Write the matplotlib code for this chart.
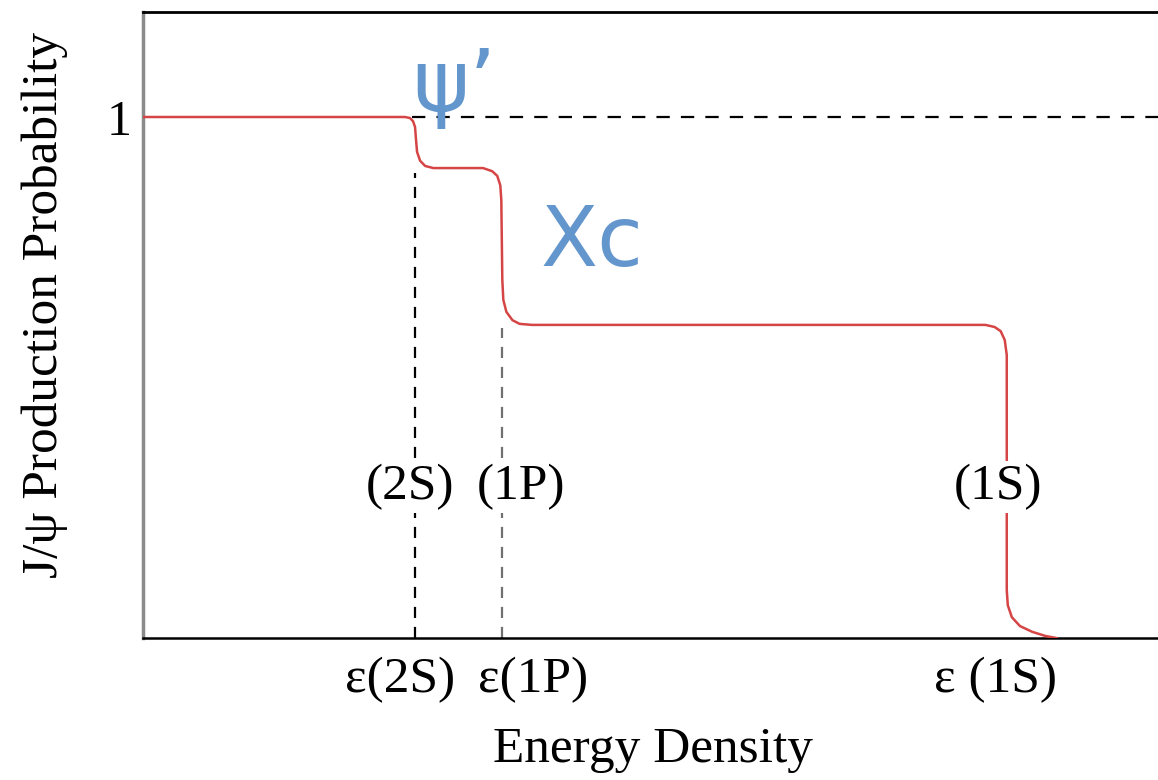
import numpy as np
import matplotlib.pyplot as plt

# curve (x: energy density, arbitrary units; y: probability)
curve_x = [0.00, 2.58, 2.63, 2.66, 2.68, 2.69, 2.70, 2.73, 2.78, 2.86, 3.35, 3.44,
           3.49, 3.52, 3.53, 3.54, 3.55, 3.58, 3.64, 3.71, 3.83, 8.30, 8.39, 8.45,
           8.49, 8.51, 8.51, 8.52, 8.56, 8.64, 8.76, 8.89, 9.00]
curve_y = [1.000, 1.000, 0.998, 0.992, 0.981, 0.956, 0.933, 0.916, 0.906, 0.902, 0.902, 0.896,
           0.887, 0.869, 0.841, 0.687, 0.649, 0.626, 0.610, 0.603, 0.601, 0.601, 0.597, 0.589,
           0.572, 0.543, 0.092, 0.063, 0.040, 0.023, 0.012, 0.004, 0.000]

# dissociation thresholds
eps_names = ['(2S)', '(1P)', '(1S)']
eps_x = [2.68, 3.54, 8.51]
eps_top = [0.893, 0.595, None]
eps_colors = ['black', '#707070', None]
tick_labels = ['ε(2S)', 'ε(1P)', 'ε (1S)']
tick_label_x = [2.53, 3.84, 8.40]
state_label_x = [2.63, 3.72, 8.42]

serif = ['Liberation Serif', 'DejaVu Serif']
blue = '#6396cc'
fs = 37

fig = plt.figure(figsize=(11.58, 7.8), dpi=100)
ax = fig.add_axes([0.1235, 0.182, 0.8765, 0.8026])

ax.plot(curve_x, curve_y, color='#d64545', lw=1.8, zorder=3)

# horizontal dashed line at 1
ax.plot([2.65, 10.0], [1.0, 1.0], color='black', lw=1.6, dashes=(6, 5), zorder=2)

for xv, top, c in zip(eps_x, eps_top, eps_colors):
    if top is not None:
        ax.plot([xv, xv], [0, top], color=c, lw=1.6, dashes=(5, 4), zorder=2)

for name, xv in zip(eps_names, state_label_x):
    ax.text(xv, 0.29, name, ha='center', va='center', fontsize=fs, family=serif,
            zorder=5, bbox=dict(facecolor='white', edgecolor='none', pad=2))

for lab, xv in zip(tick_labels, tick_label_x):
    ax.text(xv, -0.081, lab, ha='center', va='center', fontsize=fs, family=serif,
            clip_on=False)

ax.text(3.07, 1.056, 'ψ’', ha='center', va='center', fontsize=62, color=blue,
        family=['DejaVu Sans'], zorder=6)
ax.text(4.42, 0.76, 'Χc', ha='center', va='center', fontsize=60, color=blue,
        family=['DejaVu Sans'], zorder=6)

ax.set_xlim(0, 10)
ax.set_ylim(0, 1.2015)
ax.set_xticks([])
ax.set_yticks([1])
ax.set_yticklabels(['1'], fontsize=36, family=serif)
ax.tick_params(axis='y', length=0, pad=8)

ax.spines['right'].set_visible(False)
ax.spines['left'].set_color('#8a8a8a')
ax.spines['left'].set_linewidth(2.5)
ax.spines['top'].set_linewidth(2.0)
ax.spines['bottom'].set_linewidth(1.8)

fig.text(45 / 1158, 1 - 305 / 780, 'J/ψ Production Probability', rotation=90,
         ha='center', va='center', fontsize=fs, family=serif)
fig.text(653 / 1158, 1 - 750 / 780, 'Energy Density', ha='center', va='center',
         fontsize=fs, family=serif)

plt.savefig('out.png', dpi=100)
